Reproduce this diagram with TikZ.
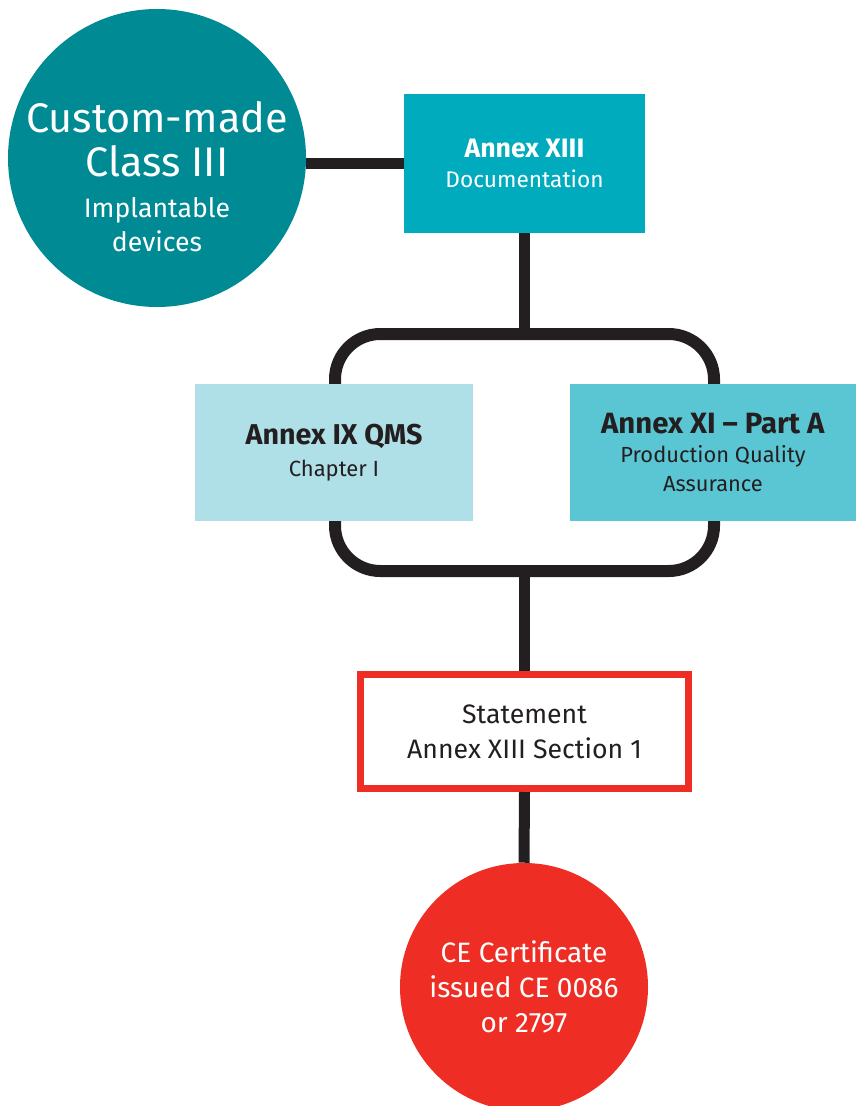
\documentclass[tikz,border=0pt]{standalone}
\usepackage{fontspec}
\setmainfont{Fira Sans}
\definecolor{ink}{HTML}{231F20}
\definecolor{tealdark}{HTML}{008A94}
\definecolor{tealmid}{HTML}{00ABBD}
\definecolor{teallight}{HTML}{AFE0E7}
\definecolor{tealsoft}{HTML}{5BC6D3}
\definecolor{cered}{HTML}{EE2E24}
\newcommand\bigtxt{\fontsize{31}{33}\selectfont}
\newcommand\smalltxt{\fontsize{20}{25.5}\selectfont}
\begin{document}
\begin{tikzpicture}[x=0.75pt,y=-0.75pt,
    every node/.style={align=center, inner sep=0pt},
    box/.style={rectangle, minimum height=102.75pt},
    wire/.style={draw=ink, line width=8.25pt}]
  \useasboundingbox (0,0) rectangle (856,1106);
  % loop behind the two annex boxes
  \node[draw=ink, line width=9pt, rounded corners=34pt,
        minimum width=284.25pt, minimum height=177.75pt] (loop) at (524.5,452.5) {};
  \node[circle, fill=tealdark, minimum size=223.5pt] (device) at (157,158) {};
  \node[text=white, font=\smalltxt] (devicetext) at (157,177)
    {\bigtxt Custom-made\\[7.5pt]\bigtxt Class III\\[5.25pt]\smalltxt Implantable\\\smalltxt devices};
  \node[box, fill=tealmid, minimum width=180.75pt, minimum height=104.25pt,
        text=white, font=\fontsize{17}{22.5}\selectfont] (doc) at (524.5,163.5)
    {\fontsize{20}{22.5}\selectfont\textbf{Annex XIII}\\\fontsize{17}{22.5}\selectfont Documentation};
  \node[box, fill=teallight, minimum width=208.5pt, text=ink,
        font=\fontsize{16.5}{24}\selectfont] (qms) at (334,452.5)
    {\fontsize{21.5}{24}\selectfont\textbf{Annex IX QMS}\\\fontsize{16.5}{24}\selectfont Chapter I};
  \node[box, fill=tealsoft, minimum width=214.5pt, text=ink,
        font=\fontsize{16.4}{22}\selectfont] (pqa) at (713,452.5)
    {\fontsize{22}{22}\selectfont\textbf{Annex XI -- Part A}\\\fontsize{16.4}{22}\selectfont Production Quality\\\fontsize{16.4}{22}\selectfont Assurance};
  \node[draw=cered, line width=5.25pt, fill=white, minimum width=246pt,
        minimum height=85.5pt, text=ink, font=\fontsize{20}{26}\selectfont] (stmt) at (524.5,731.5)
    {Statement\\Annex XIII Section 1};
  \node[circle, fill=cered, minimum size=186pt, text=white,
        font=\fontsize{21}{26}\selectfont] (cert) at (524,987)
    {CE Certificate\\issued CE 0086\\or 2797};
  % connectors
  \draw[wire] (device.east |- doc.west) -- (doc.west);
  \draw[wire] (doc.south) -- (loop.north);
  \draw[wire] (loop.south) -- (stmt.north);
  \draw[wire] (stmt.south) -- (cert.north);
\end{tikzpicture}
\end{document}
